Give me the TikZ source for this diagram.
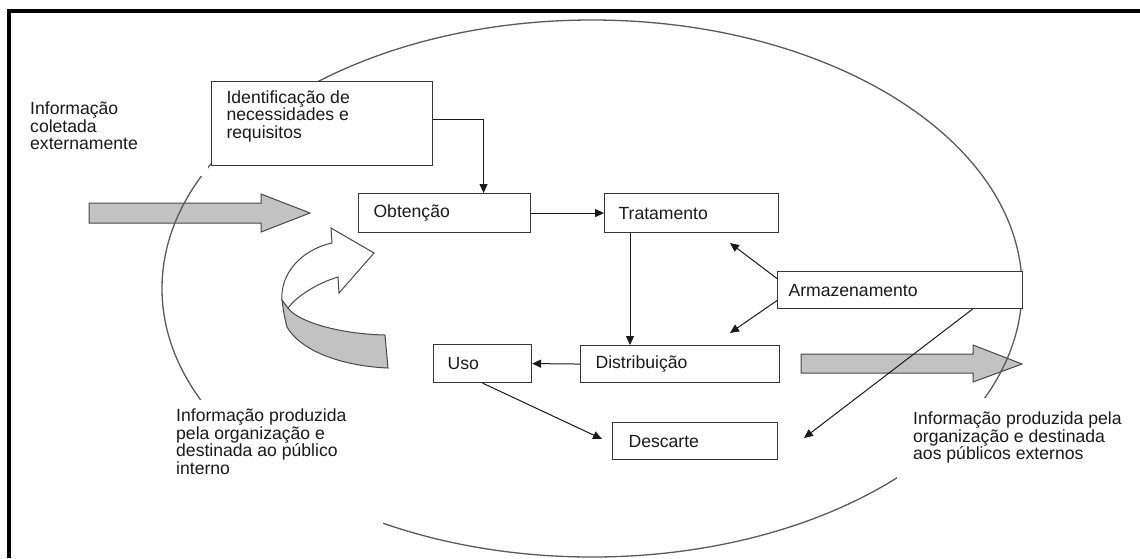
\documentclass[tikz,border=0pt]{standalone}
\usepackage{fontspec}
\setmainfont{Liberation Sans}
\usetikzlibrary{arrows.meta}
\definecolor{ink}{HTML}{1A1A1A}
\definecolor{boxline}{HTML}{363636}
\definecolor{ringline}{HTML}{5A5A5A}
\definecolor{bandfill}{HTML}{C2C2C2}
\definecolor{bandline}{HTML}{474747}
\newcommand{\lbl}{\fontsize{17.6}{17.5}\selectfont}

\begin{document}
\begin{tikzpicture}[x=1pt,y=-1pt,
  stage/.style={draw=boxline, line width=1.1pt, fill=white, anchor=north west,
    align=left, inner ysep=0pt, font=\lbl, text=ink},
  caption/.style={anchor=north west, inner sep=0pt, align=left, font=\lbl, text=ink},
  conn/.style={draw=ink, line width=1pt, -{Triangle[length=9pt,width=8pt]}},
  bigarrow/.style={fill=bandfill, draw=bandline, line width=1pt, line join=miter},
  ribbon/.style={fill=white, draw=bandline, line width=1pt, line join=miter},
]
\useasboundingbox (0,0) rectangle (1140,558);
\fill[white] (0,0) rectangle (1140,558);

% frame (top and left edges)
\draw[line width=3.5pt, black] (1140,11) -- (9,11) -- (9,558);

% broad grey arrows: inflow and outflow
\draw[bigarrow] (89,203) -- (261,203) -- (261,194) -- (310,213) -- (261,232)
  -- (261,223) -- (89,223) -- cycle;
\draw[bigarrow] (801,354) -- (973,354) -- (973,345) -- (1022,364) -- (973,382)
  -- (973,373) -- (801,373) -- cycle;

% organisation boundary
\draw[ringline, line width=1.3pt] (592,288.5) ellipse [x radius=430pt, y radius=268.5pt];

% curved ribbon arrow (internal feedback)
\draw[bigarrow] (288,308) .. controls (298,322) and (340,334) .. (385,335)
  -- (388,368) .. controls (340,366) and (300,350) .. (287,327)
  .. controls (284,315) .. (282,300) -- cycle;
\draw[ribbon] (282,300) .. controls (280,275) and (300,250) .. (332,243)
  -- (331,228) -- (374,253) -- (339,293) -- (338,277)
  .. controls (318,283) and (298,295) .. (288,308) -- cycle;

% blank backgrounds behind the outer captions
\fill[white] (20,85) rectangle (208,176);
\fill[white] (162,400) rectangle (383,533);
\fill[white] (897,398) rectangle (1140,533);

% stages of the cycle
\node[stage, minimum width=221pt, minimum height=84pt, inner xsep=15pt] (ident) at (211,81)
  {\parbox[c][84pt][t]{191pt}{\vspace*{9pt}Identificação de\\necessidades e\\requisitos}};
\node[stage, text width=142pt, inner xsep=15pt, minimum height=39pt] (obt) at (358,193) {Obtenção};
\node[stage, text width=146pt, inner xsep=14pt, minimum height=39pt] (trat) at (604,193) {Tratamento};
\node[stage, text width=223pt, inner xsep=11pt, minimum height=37pt] (arm) at (777,271) {Armazenamento};
\node[stage, text width=169pt, inner xsep=15pt, minimum height=37pt] (dist) at (580,345) {Distribuição};
\node[stage, text width=70pt, inner xsep=14pt, minimum height=38pt] (uso) at (433,344) {Uso};
\node[stage, text width=133pt, inner xsep=16pt, minimum height=37pt] (desc) at (612,422) {Descarte};

% free ends of the open connectors
\coordinate (descIn) at (602,439);
\coordinate (armUp) at (730,243);
\coordinate (armDn) at (730,333);
\coordinate (armOut) at (804,438);

% flow between stages
\draw[conn] ([yshift=4pt]ident.east) -| ([xshift=39pt]obt.north);
\draw[conn] (obt.east) -- (trat.west);
\draw[conn] ([xshift=26pt]trat.south west) -- ([xshift=26pt]trat.south west |- dist.north);
\draw[conn] (dist.west) -- (uso.east);
\draw[conn] (uso.south) -- (descIn);
\draw[conn] ([yshift=11.5pt]arm.west) -- (armUp);
\draw[conn] ([yshift=-10.5pt]arm.west) -- (armDn);
\draw[conn] ([xshift=72.5pt]arm.south) -- (armOut);

% outer captions
\node[caption] (extin) at (30,102) {Informação\\coletada\\externamente};
\node[caption] (intout) at (176,409) {Informação produzida\\pela organização e\\destinada ao público\\interno};
\node[caption] (extout) at (913,412) {Informação produzida pela\\organização e destinada\\aos públicos externos};
\end{tikzpicture}
\end{document}
